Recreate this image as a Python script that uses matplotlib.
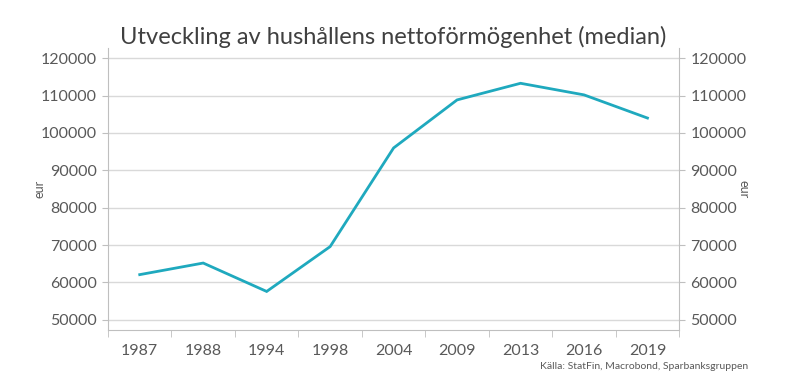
import numpy as np
import matplotlib
matplotlib.use("Agg")
import matplotlib.pyplot as plt
from matplotlib.ticker import FixedLocator

# Data (median net wealth, eur)
years = ["1987", "1988", "1994", "1998", "2004", "2009", "2013", "2016", "2019"]
wealth = [62100, 65200, 57600, 69600, 96000, 108850, 113300, 110200, 104000]
yticks = [50000, 60000, 70000, 80000, 90000, 100000, 110000, 120000]

text_col = "#595959"
axis_col = "#bfbfbf"
line_col = "#1fa9be"

plt.rcParams['font.family'] = ['Lato', 'DejaVu Sans']

fig = plt.figure(figsize=(8, 3.9), dpi=100)
ax = fig.add_axes([0.135, 0.154, 0.714, 0.723])

x = np.arange(len(years))
ax.plot(x, wealth, color=line_col, lw=2.0, solid_joinstyle='miter')

ax.set_xlim(-0.5, len(years) - 0.5)
ax.set_ylim(47300, 122750)
ax.set_xticks(x)
ax.set_xticklabels(years)
ax.xaxis.set_minor_locator(FixedLocator(np.arange(-0.5, len(years), 1.0)))
ax.tick_params(axis='x', which='major', length=0, pad=10, labelsize=11.5, labelcolor=text_col)
ax.tick_params(axis='x', which='minor', length=5, color=axis_col, direction='out')

ax.set_yticks(yticks)
ax.set_yticklabels([str(v) for v in yticks])
ax.tick_params(axis='y', length=4, color=axis_col, labelsize=11.5, labelcolor=text_col,
               left=True, right=True, labelleft=True, labelright=True, pad=4)
ax.grid(axis='y', color="#d9d9d9", lw=1)
ax.set_axisbelow(True)

for s in ['left', 'right', 'bottom']:
    ax.spines[s].set_color(axis_col)
ax.spines['top'].set_visible(False)

fig.text(0.05, 0.515, "eur", rotation=90, color=text_col, fontsize=9, ha='center', va='center')
fig.text(0.93, 0.515, "eur", rotation=-90, color=text_col, fontsize=9, ha='center', va='center')

fig.text(0.492, 0.905, "Utveckling av hushållens nettoförmögenhet (median)",
         ha='center', va='center', fontsize=17, color="#404040")
fig.text(0.935, 0.06, "Källa: StatFin, Macrobond, Sparbanksgruppen",
         ha='right', va='center', fontsize=7.5, color=text_col)

fig.savefig("out.png", dpi=100, facecolor='white')
